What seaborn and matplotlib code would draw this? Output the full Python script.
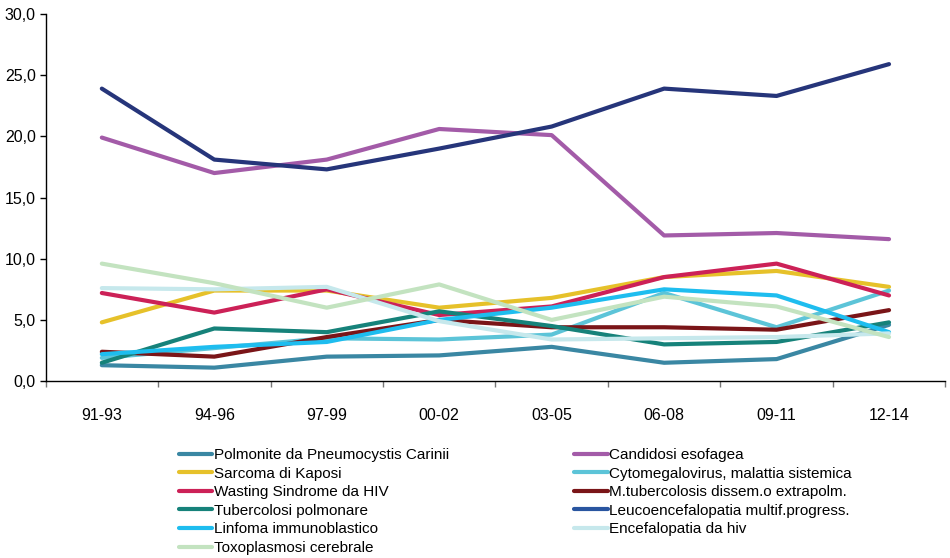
import pandas as pd
import matplotlib
matplotlib.use("Agg")
import matplotlib.pyplot as plt
from matplotlib.lines import Line2D
from matplotlib.ticker import FixedLocator, FuncFormatter
import seaborn as sns

sns.set_style("white")
plt.rcParams['font.family'] = ['Liberation Sans', 'DejaVu Sans']
plt.rcParams['text.color'] = 'black'
plt.rcParams['xtick.color'] = 'black'
plt.rcParams['ytick.color'] = 'black'

periods = ['91-93', '94-96', '97-99', '00-02', '03-05', '06-08', '09-11', '12-14']

polmonite = [1.3, 1.1, 2.0, 2.1, 2.8, 1.5, 1.8, 4.6]
candidosi = [19.9, 17.0, 18.1, 20.6, 20.1, 11.9, 12.1, 11.6]
sarcoma = [4.8, 7.4, 7.4, 6.0, 6.8, 8.5, 9.0, 7.7]
cytomegalovirus = [1.9, 2.7, 3.5, 3.4, 3.8, 7.2, 4.4, 7.4]
wasting = [7.2, 5.6, 7.5, 5.4, 6.1, 8.5, 9.6, 7.0]
mtubercolosis = [2.4, 2.0, 3.6, 5.0, 4.4, 4.4, 4.2, 5.8]
tubercolosi = [1.5, 4.3, 4.0, 5.7, 4.5, 3.0, 3.2, 4.8]
leucoencefalopatia = [23.9, 18.1, 17.3, 19.0, 20.8, 23.9, 23.3, 25.9]
linfoma = [2.2, 2.8, 3.2, 5.0, 6.0, 7.5, 7.0, 4.0]
encefalopatia = [7.6, 7.5, 7.7, 4.9, 3.4, 3.5, 3.6, 3.9]
toxoplasmosi = [9.6, 8.0, 6.0, 7.9, 5.0, 6.9, 6.1, 3.6]

series = {
    "Polmonite da Pneumocystis Carinii": polmonite,
    "Candidosi esofagea": candidosi,
    "Sarcoma di Kaposi": sarcoma,
    "Cytomegalovirus, malattia sistemica": cytomegalovirus,
    "Wasting Sindrome da HIV": wasting,
    "M.tubercolosis dissem.o extrapolm.": mtubercolosis,
    "Tubercolosi polmonare": tubercolosi,
    "Leucoencefalopatia multif.progress.": leucoencefalopatia,
    "Linfoma immunoblastico": linfoma,
    "Encefalopatia da hiv": encefalopatia,
    "Toxoplasmosi cerebrale": toxoplasmosi,
}

colors = {
    "Polmonite da Pneumocystis Carinii": "#3A87A3",
    "Candidosi esofagea": "#A35BA8",
    "Sarcoma di Kaposi": "#E6C12A",
    "Cytomegalovirus, malattia sistemica": "#5CC4D8",
    "Wasting Sindrome da HIV": "#CC2157",
    "M.tubercolosis dissem.o extrapolm.": "#7A1518",
    "Tubercolosi polmonare": "#16827A",
    "Leucoencefalopatia multif.progress.": "#26357A",
    "Linfoma immunoblastico": "#1EBDEF",
    "Encefalopatia da hiv": "#C6E8EC",
    "Toxoplasmosi cerebrale": "#C3E3C0",
}
# legend swatch of the navy line is drawn a bit lighter in the original
legend_colors = dict(colors)
legend_colors["Leucoencefalopatia multif.progress."] = "#2955A0"

rows = []
for name, vals in series.items():
    for i, v in enumerate(vals):
        rows.append({"pos": i, "value": v, "serie": name})
df = pd.DataFrame(rows)

fig = plt.figure(figsize=(9.5, 5.58), dpi=100)
ax = fig.add_axes([0.048, 0.317, 0.947, 0.658])

sns.lineplot(data=df, x="pos", y="value", hue="serie", hue_order=list(series),
             palette=colors, linewidth=3, legend=False, ax=ax)

ax.set_xlim(-0.5, 7.5)
ax.set_ylim(0, 30)
ax.set_xlabel("")
ax.set_ylabel("")

ax.set_xticks(range(len(periods)))
ax.set_xticklabels(periods)
ax.xaxis.set_minor_locator(FixedLocator([i - 0.5 for i in range(len(periods) + 1)]))
ax.tick_params(axis="x", which="major", length=0, pad=19, labelsize=11.5)
ax.tick_params(axis="x", which="minor", length=4, width=1, color="#777777", direction="out")
ax.tick_params(axis="x", which="minor", bottom=True)

ax.set_yticks(range(0, 31, 5))
ax.yaxis.set_major_formatter(FuncFormatter(lambda v, p: f"{v:.1f}".replace(".", ",")))
ax.tick_params(axis="y", length=4, width=1, color="black", direction="out", pad=3,
               labelsize=11.5, left=True)

for s in ["top", "right"]:
    ax.spines[s].set_visible(False)
for s in ["left", "bottom"]:
    ax.spines[s].set_color("black")
    ax.spines[s].set_linewidth(1)

names = list(series)
col1 = [names[i] for i in range(0, len(names), 2)]
col2 = [names[i] for i in range(1, len(names), 2)]
order = col1 + col2
handles = [Line2D([0], [0], color=legend_colors[n], lw=3) for n in order]
fig.legend(handles, order, loc="upper left", bbox_to_anchor=(0.188, 0.197),
           ncol=2, frameon=False, fontsize=11, handlelength=2.2,
           handletextpad=0.1, columnspacing=8.2, labelspacing=0.3,
           borderaxespad=0, borderpad=0)

fig.savefig("out.png", dpi=100)
